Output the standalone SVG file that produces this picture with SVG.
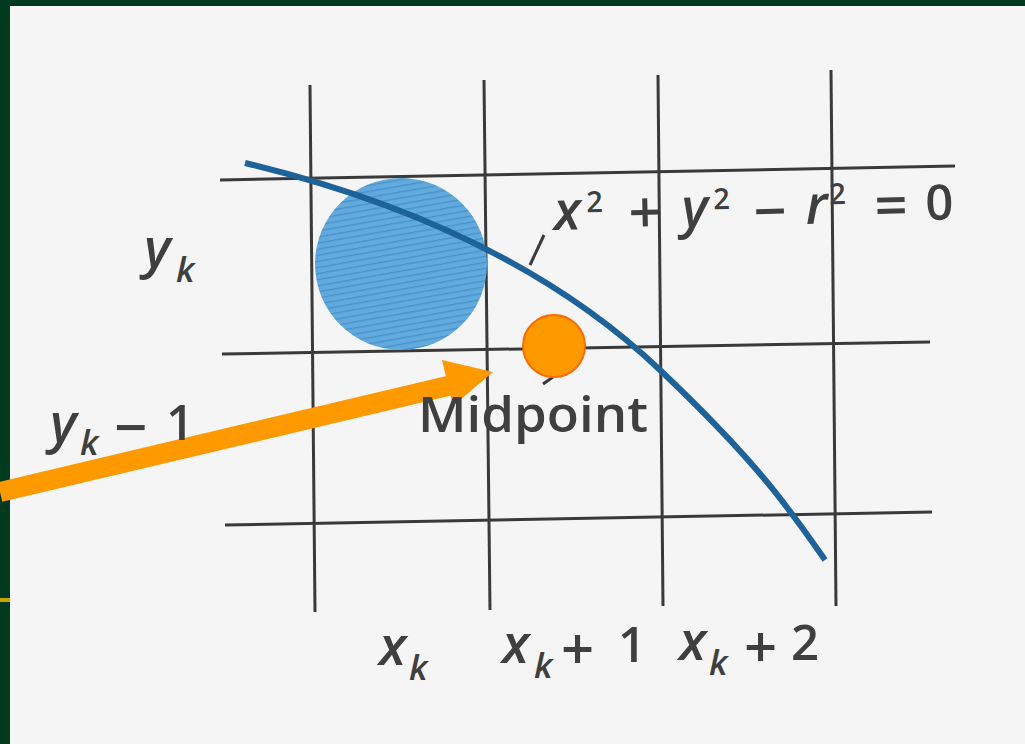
<svg xmlns="http://www.w3.org/2000/svg" width="1025" height="744" viewBox="0 0 1025 744">
<defs>
<pattern id="hatch" width="6" height="6" patternUnits="userSpaceOnUse" patternTransform="rotate(80)">
<rect width="6" height="6" fill="#62a9dd"/>
<line x1="0" y1="0" x2="0" y2="6" stroke="#4592cc" stroke-width="2.5"/>
</pattern>
</defs>
<style>
.grid{stroke:#3a3a3a;stroke-width:3;fill:none}
.lbl{font-family:"Open Sans","Liberation Sans",Arial,sans-serif;font-weight:600;fill:#3f3f3f}
.v{font-size:54px;font-style:italic}
.n{font-size:49px}
.op{font-size:58px}
.sub{font-size:35px;font-style:italic}
.sup{font-size:29px}
</style>
<rect x="0" y="0" width="1025" height="744" fill="#013a1f"/>
<rect x="10" y="6" width="1015" height="738" fill="#f6f5f6"/>
<rect x="0" y="598" width="10" height="4" fill="#c8a000"/>
<g id="grid">
<line class="grid" x1="220" y1="180" x2="955" y2="166"/>
<line class="grid" x1="222" y1="354" x2="930" y2="342"/>
<line class="grid" x1="225" y1="525" x2="932" y2="512"/>
<line class="grid" x1="310" y1="85" x2="315" y2="612"/>
<line class="grid" x1="484" y1="80" x2="490" y2="610"/>
<line class="grid" x1="658" y1="75" x2="663" y2="606"/>
<line class="grid" x1="831" y1="70" x2="836" y2="606"/>
</g>
<g id="pixel">
<circle cx="401" cy="264" r="86" fill="url(#hatch)"/>
</g>
<g id="curve">
<path d="M245,163 C420,205 560,275 660,370 C760,465 790,510 825,560" fill="none" stroke="#1d6399" stroke-width="6"/>
<line x1="530" y1="265" x2="544" y2="235" stroke="#3a3a3a" stroke-width="3"/>
<line x1="543" y1="384" x2="553" y2="377" stroke="#3a3a3a" stroke-width="3"/>
</g>
<g id="midpoint">
<circle cx="554" cy="346" r="31" fill="#ff9900" stroke="#ff6a00" stroke-width="2"/>
</g>
<g id="connectors">
<line x1="0" y1="492" x2="452" y2="385" stroke="#ff9900" stroke-width="20"/>
<polygon points="493,372 442,360 453,406" fill="#ff9900"/>
</g>
<g id="labels">
<text class="lbl"><tspan class="v" x="144" y="267">y</tspan><tspan class="sub" x="176" y="282">k</tspan></text>
<text class="lbl"><tspan class="v" x="50" y="442">y</tspan><tspan class="sub" x="80" y="455">k</tspan><tspan class="op" x="114" y="448">−</tspan><tspan class="n" x="166" y="440">1</tspan></text>
<text class="lbl n" x="418" y="432" font-size="47" textLength="230" lengthAdjust="spacingAndGlyphs">Midpoint</text>
<text class="lbl" transform="rotate(-1.4 558 230)"><tspan class="v" x="554" y="230">x</tspan><tspan class="sup" x="587" y="213">2</tspan><tspan class="op" x="629" y="235">+</tspan><tspan class="v" x="682" y="230">y</tspan><tspan class="sup" x="714" y="213">2</tspan><tspan class="op" x="754" y="237">−</tspan><tspan class="v" x="806" y="230">r</tspan><tspan class="sup" x="830" y="211">2</tspan><tspan class="op" x="875" y="234">=</tspan><tspan class="n" x="926" y="229">0</tspan></text>
<text class="lbl"><tspan class="v" x="379" y="665">x</tspan><tspan class="sub" x="409" y="680">k</tspan></text>
<text class="lbl"><tspan class="v" x="502" y="663">x</tspan><tspan class="sub" x="534" y="678">k</tspan><tspan class="op" x="561" y="670">+</tspan><tspan class="n" x="618" y="662">1</tspan></text>
<text class="lbl"><tspan class="v" x="679" y="660">x</tspan><tspan class="sub" x="709" y="675">k</tspan><tspan class="op" x="744" y="668">+</tspan><tspan class="n" x="791" y="660">2</tspan></text>
</g>
</svg>
